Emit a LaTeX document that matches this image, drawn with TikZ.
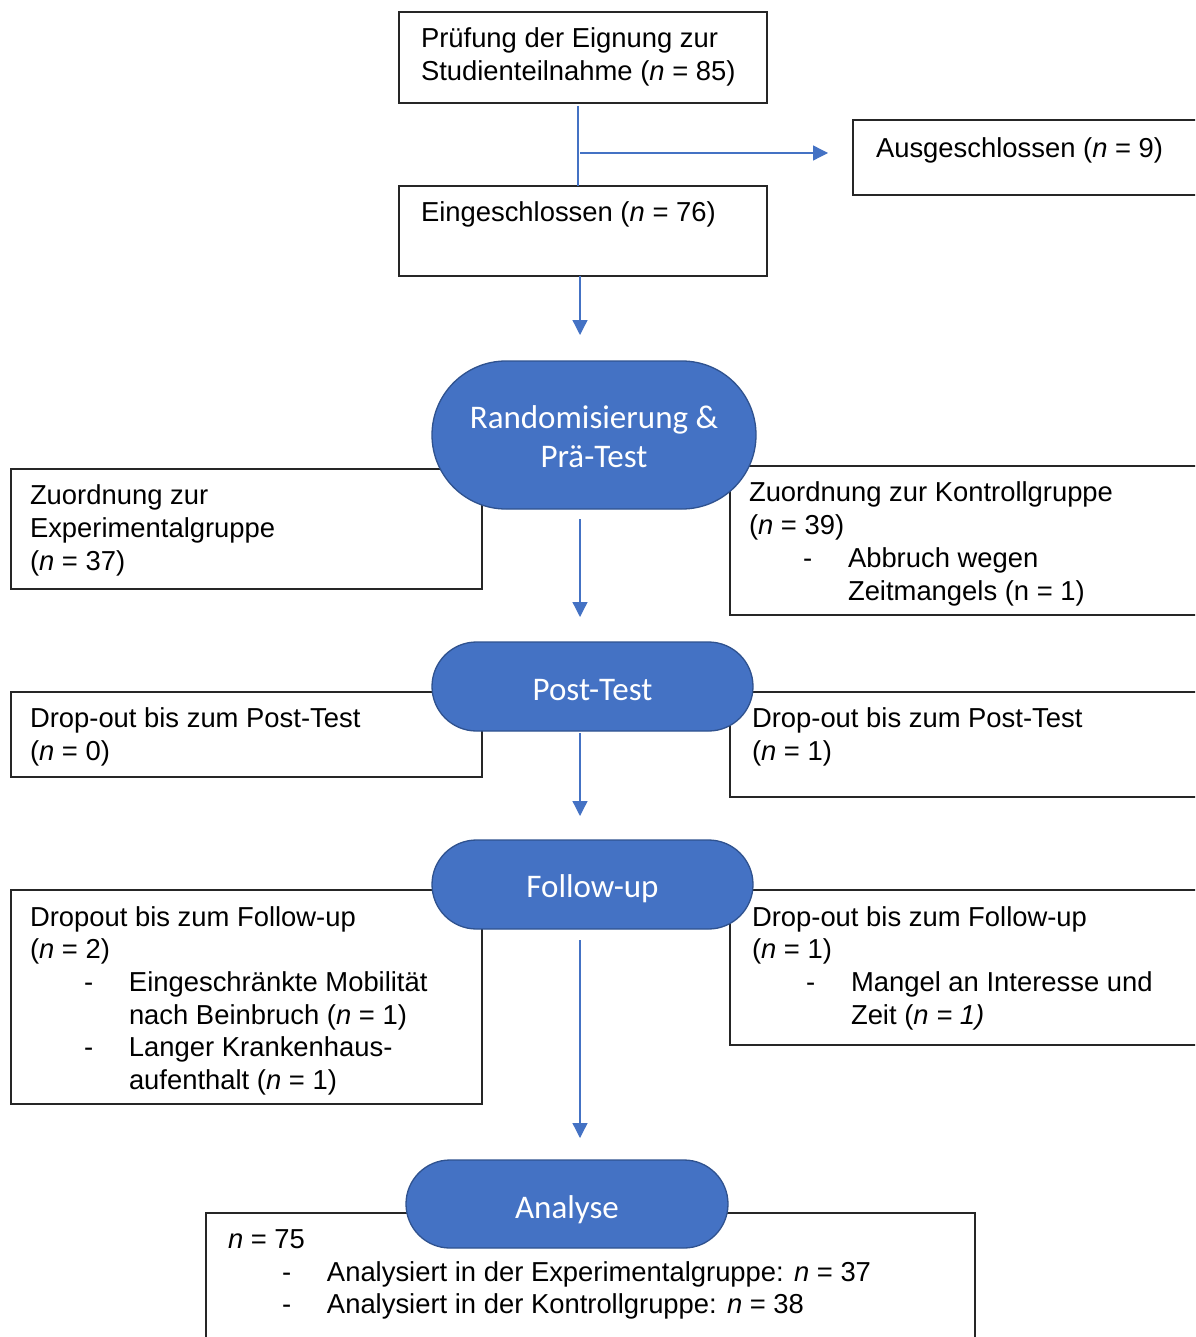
\documentclass[tikz,border=0pt]{standalone}
\usepackage{fontspec}
\setmainfont{Liberation Sans}
\newfontfamily\calfont{Carlito}
\usetikzlibrary{arrows.meta}
\definecolor{accent}{HTML}{4472C4}
\definecolor{accentdark}{HTML}{2F528F}
\newcommand\myBul[1]{\hspace*{54pt}\makebox[45pt][l]{-}#1}
\newcommand\myInd[1]{\hspace*{99pt}#1}
\begin{document}
\begin{tikzpicture}[x=1pt,y=-1pt,
  box/.style={draw=black!85, line width=1.1pt, anchor=north west, inner sep=0, outer sep=0},
  txt/.style={anchor=north west, inner sep=0, outer sep=0, align=left, font=\fontsize{27.4}{32.7}\selectfont},
  stadium/.style={draw=accentdark, fill=accent, line width=1.3pt, inner sep=0, outer sep=0},
  stxt/.style={text=white, font=\calfont\fontsize{33}{39}\selectfont, align=center, inner sep=0, outer sep=0},
  arr/.style={draw=accent, line width=1.3pt, -{Triangle[length=15pt,width=15pt]}},
  lin/.style={draw=accent, line width=1.3pt}]
\useasboundingbox (0,0) rectangle (1195,1337);
\clip (0,0) rectangle (1195,1337);
\fill[white] (0,0) rectangle (1195,1337);
\coordinate (ax) at (580,0);
% boxes
\node[box, minimum width=368pt, minimum height=91pt] (b1) at (399,12) {};
\node[box, minimum width=400pt, minimum height=75pt] (bEx) at (853,120) {};
\node[box, minimum width=368pt, minimum height=90pt] (b2) at (399,186) {};
\node[box, minimum width=471pt, minimum height=120pt] (bExp) at (11,469) {};
\node[box, minimum width=500pt, minimum height=149pt] (bKon) at (730,466) {};
\node[box, minimum width=471pt, minimum height=85pt] (bPL) at (11,692) {};
\node[box, minimum width=500pt, minimum height=105pt] (bPR) at (730,692) {};
\node[box, minimum width=471pt, minimum height=214pt] (bFL) at (11,890) {};
\node[box, minimum width=500pt, minimum height=155pt] (bFR) at (730,890) {};
\node[box, minimum width=769pt, minimum height=200pt] (bAn) at (206,1213) {};
% texts
\node[txt] (t1) at (421,25.1) {\strut Prüfung der Eignung zur\\Studienteilnahme (\textit{n} = 85)};
\node[txt] (tEx) at (876,135.1) {\strut Ausgeschlossen (\textit{n} = 9)};
\node[txt] (t2) at (421,199.1) {\strut Eingeschlossen (\textit{n} = 76)};
\node[txt] (tExp) at (30,482.1) {\strut Zuordnung zur\\Experimentalgruppe\\(\textit{n} = 37)};
\node[txt] (tKon) at (749,479.1) {\strut Zuordnung zur Kontrollgruppe\\(\textit{n} = 39)\\\myBul{Abbruch wegen}\\\myInd{Zeitmangels (n = 1)}};
\node[txt] (tPL) at (30,705.1) {\strut Drop-out bis zum Post-Test\\(\textit{n} = 0)};
\node[txt] (tPR) at (752,705.1) {\strut Drop-out bis zum Post-Test\\(\textit{n} = 1)};
\node[txt] (tFL) at (30,903.1) {\strut Dropout bis zum Follow-up\\(\textit{n} = 2)\\\myBul{Eingeschränkte Mobilität}\\\myInd{nach Beinbruch (\textit{n} = 1)}\\\myBul{Langer Krankenhaus-}\\\myInd{aufenthalt (\textit{n} = 1)}};
\node[txt] (tFR) at (752,903.1) {\strut Drop-out bis zum Follow-up\\(\textit{n} = 1)\\\myBul{Mangel an Interesse und}\\\myInd{Zeit (\textit{n = 1)}}};
\node[txt] (tAn) at (228,1225.6) {\strut\textit{n} = 75\\\myBul{Analysiert in der Experimentalgruppe: \textit{n} = 37}\\\myBul{Analysiert in der Kontrollgruppe: \textit{n} = 38}};
% stadiums
\node[stadium, minimum width=324pt, minimum height=148pt, rounded corners=74pt] (sR) at (594,435) {};
\node[stadium, minimum width=321pt, minimum height=89pt, rounded corners=44.5pt] (sP) at (592.5,686.5) {};
\node[stadium, minimum width=321pt, minimum height=89pt, rounded corners=44.5pt] (sF) at (592.5,884.5) {};
\node[stadium, minimum width=322pt, minimum height=88pt, rounded corners=44pt] (sA) at (567,1204) {};
\node[stxt] (sRt) at ([yshift=-2pt]sR.center) {Randomisierung \&\\Prä-Test};
\node[stxt] (sPt) at ([yshift=-4pt]sP.center) {Post-Test};
\node[stxt] (sFt) at ([yshift=-4.5pt]sF.center) {Follow-up};
\node[stxt] (sAt) at ([yshift=-5.5pt]sA.center) {Analyse};
% connectors
\draw[lin] ([xshift=-5pt,yshift=-3pt]b1.south) -- ([xshift=-5pt]b2.north);
\coordinate (br) at (580,153);
\draw[arr] (br) -- ([xshift=-25pt]br -| bEx.west);
\draw[arr] ([xshift=-3pt]b2.south) -- ([xshift=-3pt,yshift=26pt]sR.north -| b2.south);
\draw[arr] ([yshift=-10pt]sR.south -| ax) -- ([yshift=25pt]sP.north -| ax);
\draw[arr] ([yshift=-2pt]sP.south -| ax) -- ([yshift=24pt]sF.north -| ax);
\draw[arr] ([yshift=-11pt]sF.south -| ax) -- ([yshift=22pt]sA.north -| ax);
\end{tikzpicture}
\end{document}
